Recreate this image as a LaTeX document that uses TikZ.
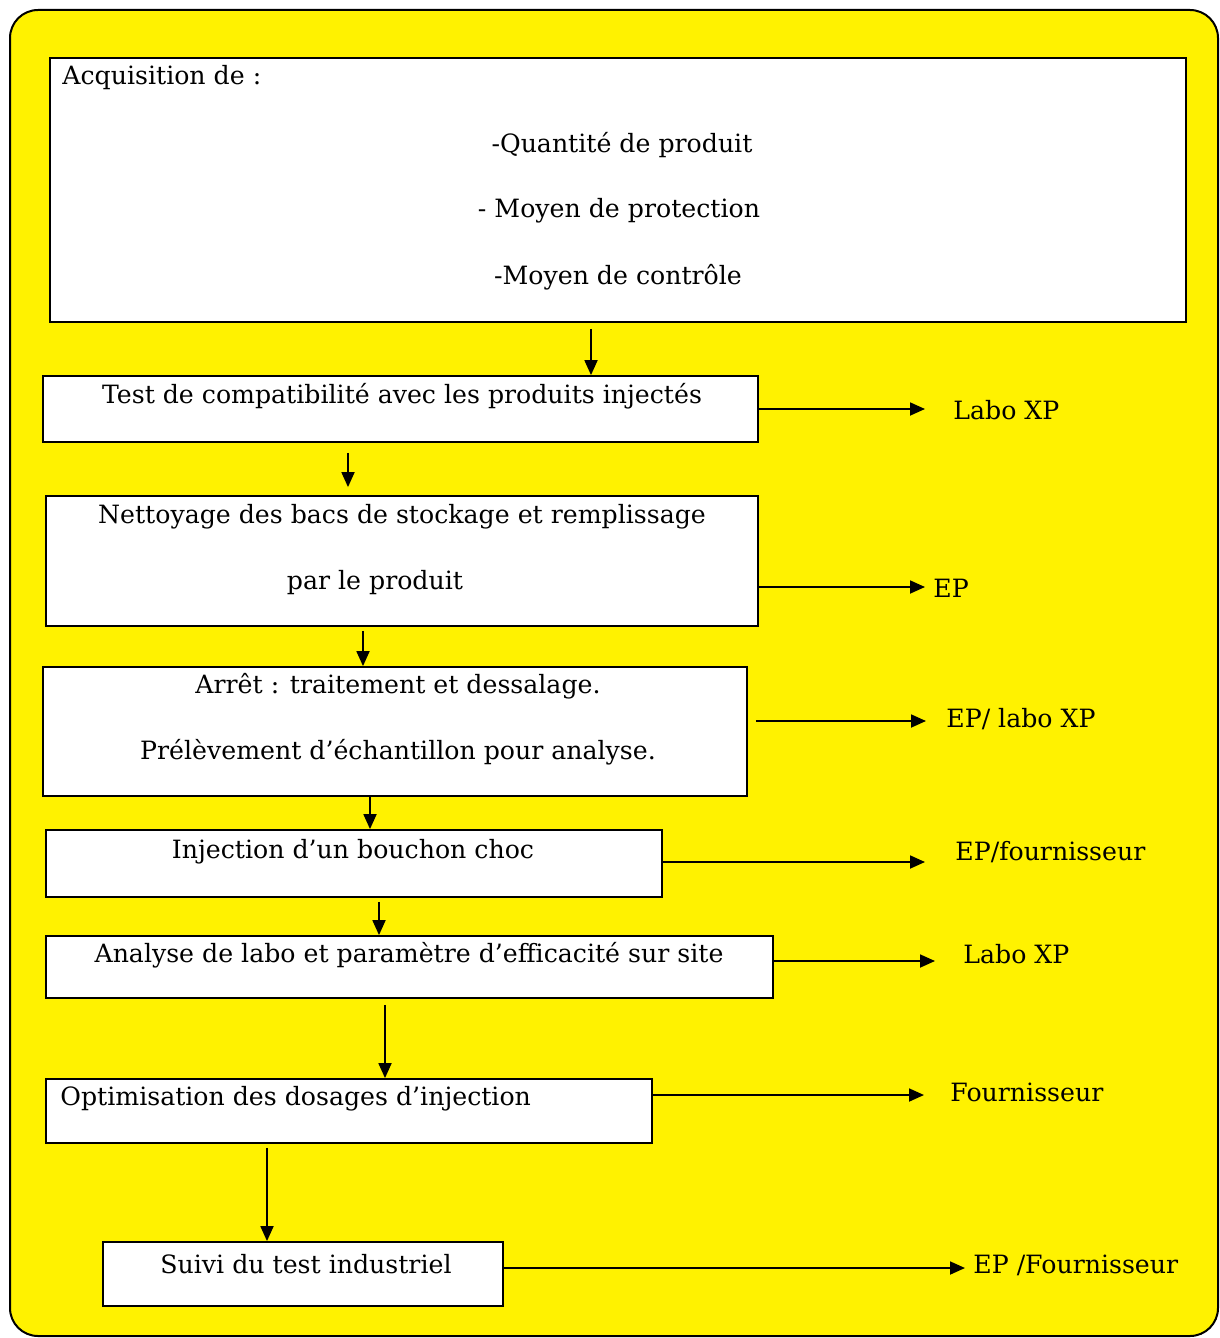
\documentclass[tikz,border=0pt]{standalone}
\usepackage{fontspec}
\setmainfont{DejaVu Serif}
\usepackage{tikz}
\usetikzlibrary{arrows.meta,positioning,fit}
\definecolor{fond}{HTML}{FFF200}
\tikzset{
  box/.style={draw, line width=0.9pt, fill=white, inner sep=0pt},
  txt/.style={inner sep=0pt, font=\fontsize{12.6}{15}\selectfont},
  arr/.style={-{Triangle[length=7.5pt,width=6.5pt]}, line width=0.9pt},
}
\begin{document}
\begin{tikzpicture}[x=0.5pt,y=-0.5pt]
\useasboundingbox (0,0) rectangle (1220,1338);
\draw[fill=fond, line width=1pt, rounded corners=14pt] (10,10) rectangle (1218,1336);
% boites
\node[box, fit={(50,58) (1186,322)}] (b1) {};
\node[box, fit={(43,376) (758,442)}] (b2) {};
\node[box, fit={(46,496) (758,626)}] (b3) {};
\node[box, fit={(43,667) (747,796)}] (b4) {};
\node[box, fit={(46,830) (662,897)}] (b5) {};
\node[box, fit={(46,936) (773,998)}] (b6) {};
\node[box, fit={(46,1079) (652,1143)}] (b7) {};
\node[box, fit={(103,1242) (503,1306)}] (b8) {};
% textes
\node[txt, anchor=west] (t1) at (62,78) {Acquisition de :};
\node[txt] (q1) at (622,145) {-Quantité de produit};
\node[txt] (q2) at (619,211) {- Moyen de protection};
\node[txt] (q3) at (618,277) {-Moyen de contrôle};
\node[txt] (t2) at (402,396) {Test de compatibilité avec les produits injectés};
\node[txt] (t3) at (402,517) {Nettoyage des bacs de stockage et remplissage};
\node[txt] (t3b) at (375,583) {par le produit};
\node[txt] (t4) at (398,686) {Arrêt : traitement et dessalage.};
\node[txt] (t4b) at (398,752) {Prélèvement d’échantillon pour analyse.};
\node[txt] (t5) at (353,852) {Injection d’un bouchon choc};
\node[txt] (t6) at (409,955) {Analyse de labo et paramètre d’efficacité sur site};
\node[txt, anchor=west] (t7) at (60,1099) {Optimisation des dosages d’injection};
\node[txt] (t8) at (306,1264) {Suivi du test industriel};
% acteurs
\node[txt, anchor=west] (r2) at (953,410) {Labo XP};
\node[txt, anchor=west] (r3) at (933,588) {EP};
\node[txt, anchor=west] (r4) at (946,719) {EP/ labo XP};
\node[txt, anchor=west] (r5) at (955,852) {EP/fournisseur};
\node[txt, anchor=west] (r6) at (963,954) {Labo XP};
\node[txt, anchor=west] (r7) at (950,1092) {Fournisseur};
\node[txt, anchor=west] (r8) at (973,1265) {EP /Fournisseur};
% fleches verticales
\draw[arr, shorten <=3pt] (b1.south -| 591,0) -- (b2.north -| 591,0);
\draw[arr, shorten <=5pt, shorten >=4pt] (b2.south -| 348,0) -- (b3.north -| 348,0);
\draw[arr, shorten <=2pt] (b3.south -| 363,0) -- (b4.north -| 363,0);
\draw[arr] (b4.south -| 370,0) -- (b5.north -| 370,0);
\draw[arr, shorten <=2pt] (b5.south -| 379,0) -- (b6.north -| 379,0);
\draw[arr, shorten <=3pt] (b6.south -| 385,0) -- (b7.north -| 385,0);
\draw[arr, shorten <=2pt] (b7.south -| 267,0) -- (b8.north -| 267,0);
% fleches horizontales
\draw[arr, shorten >=14pt] (b2.east |- 0,409) -- (r2.west |- 0,409);
\draw[arr, shorten >=4pt] (b3.east |- 0,587) -- (r3.west |- 0,587);
\draw[arr, shorten <=4pt, shorten >=10pt] (b4.east |- 0,721) -- (r4.west |- 0,721);
\draw[arr, shorten >=15pt] (b5.east |- 0,862) -- (r5.west |- 0,862);
\draw[arr, shorten >=14pt] (b6.east |- 0,961) -- (r6.west |- 0,961);
\draw[arr, shorten >=13pt] (b7.east |- 0,1095) -- (r7.west |- 0,1095);
\draw[arr, shorten >=4pt] (b8.east |- 0,1268) -- (r8.west |- 0,1268);
\end{tikzpicture}
\end{document}
